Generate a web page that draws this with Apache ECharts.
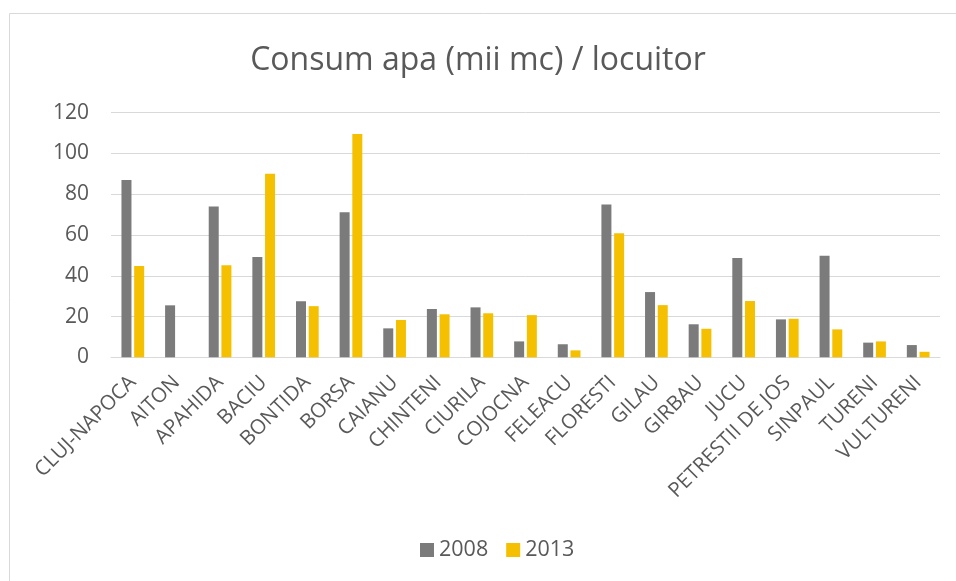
<!DOCTYPE html>
<html>
<head>
<meta charset="utf-8">
<script src="https://cdn.jsdelivr.net/npm/echarts@6/dist/echarts.min.js"></script>
<style>
  html, body { margin: 0; padding: 0; background: #ffffff; }
  #chart { width: 956px; height: 581px; }
</style>
</head>
<body>
<div id="chart"></div>
<script>
// Localitati din judetul Cluj
const categories = [
  'CLUJ-NAPOCA', 'AITON', 'APAHIDA', 'BACIU', 'BONTIDA', 'BORSA', 'CAIANU',
  'CHINTENI', 'CIURILA', 'COJOCNA', 'FELEACU', 'FLORESTI', 'GILAU', 'GIRBAU',
  'JUCU', 'PETRESTII DE JOS', 'SINPAUL', 'TURENI', 'VULTURENI'
];
// Consum apa (mii mc) / locuitor
const values2008 = [87, 25.5, 74, 49.2, 27.5, 71.1, 14.2, 23.7, 24.5, 7.8, 6.4, 75, 32, 16.2, 48.7, 18.6, 49.8, 7.2, 6.0];
const values2013 = [44.8, 0, 45.1, 90, 25.1, 109.5, 18.3, 21.1, 21.6, 20.7, 3.4, 60.9, 25.6, 14, 27.6, 18.9, 13.7, 7.8, 2.7];
const yTicks = { min: 0, max: 120, interval: 20 };

const textColor = '#595959';
const fontFamily = '"Open Sans", "Liberation Sans", sans-serif';

const chart = echarts.init(document.getElementById('chart'));
chart.setOption({
  backgroundColor: '#ffffff',
  animation: false,
  graphic: [{
    type: 'rect',
    shape: { x: 9.5, y: 13.5, width: 960, height: 600 },
    style: { fill: 'none', stroke: '#d9d9d9', lineWidth: 1 },
    silent: true,
    z: -1
  }],
  title: {
    text: 'Consum apa (mii mc) / locuitor',
    left: 'center',
    top: 40,
    textStyle: { color: textColor, fontSize: 32, fontWeight: 'normal', fontFamily }
  },
  legend: {
    bottom: 15,
    left: 415,
    itemWidth: 14,
    itemHeight: 14,
    itemGap: 18,
    icon: 'rect',
    textStyle: { color: textColor, fontSize: 21.5, fontFamily },
    data: ['2008', '2013']
  },
  grid: { left: 111, right: 16, top: 112.7, bottom: 223.7, containLabel: false },
  xAxis: {
    type: 'category',
    data: categories,
    axisLine: { lineStyle: { color: '#d9d9d9', width: 1 } },
    axisTick: { show: false },
    axisLabel: {
      rotate: 45,
      interval: 0,
      margin: 22,
      color: textColor,
      fontSize: 20.5,
      fontFamily
    }
  },
  yAxis: {
    type: 'value',
    min: yTicks.min,
    max: yTicks.max,
    interval: yTicks.interval,
    axisLine: { show: false },
    axisTick: { show: false },
    splitLine: { lineStyle: { color: '#d9d9d9', width: 1 } },
    axisLabel: { color: textColor, fontSize: 21, margin: 22, fontFamily }
  },
  series: [
    {
      name: '2008',
      type: 'bar',
      data: values2008,
      barWidth: 10,
      barGap: '27%',
      itemStyle: { color: '#7b7b7b' }
    },
    {
      name: '2013',
      type: 'bar',
      data: values2013,
      barWidth: 10,
      itemStyle: { color: '#f5c000' }
    }
  ]
});
</script>
</body>
</html>
